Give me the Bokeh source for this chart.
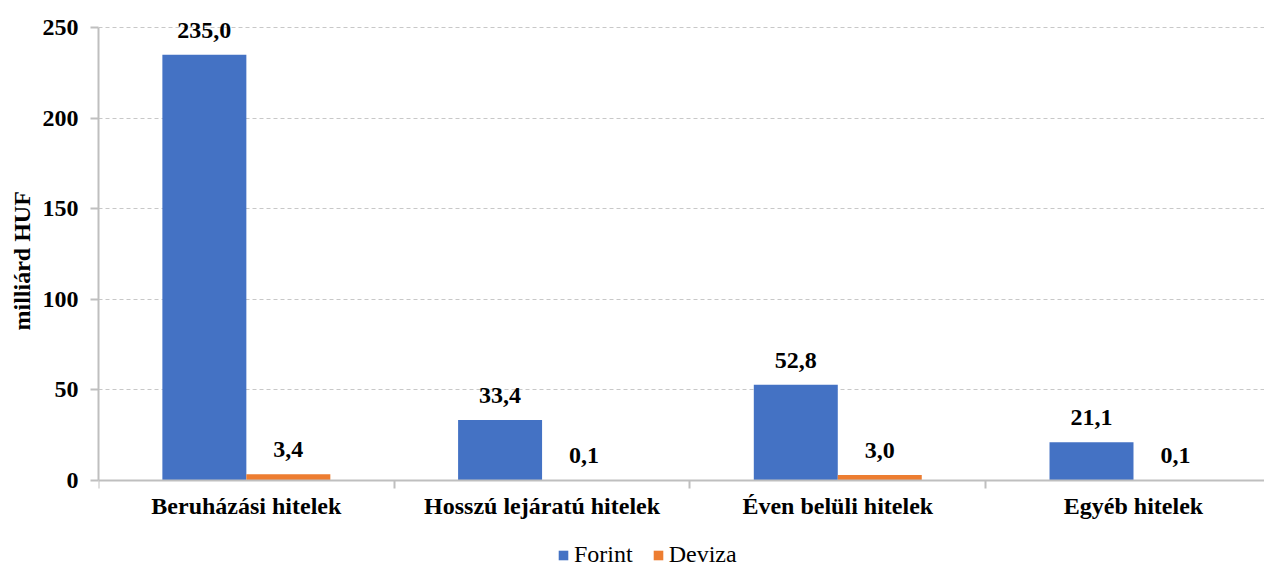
from bokeh.plotting import figure
from bokeh.models import (ColumnDataSource, Range1d, FixedTicker, LabelSet,
                          Legend, LegendItem, LinearAxis, Title)
from bokeh.transform import dodge
from bokeh.embed import file_html
from bokeh.resources import INLINE
import numpy as np

categories = ["Beruházási hitelek", "Hosszú lejáratú hitelek",
              "Éven belüli hitelek", "Egyéb hitelek"]
forint = [235.0, 33.4, 52.8, 21.1]
deviza = [3.4, 0.1, 3.0, 0.1]
y_ticks = [0, 50, 100, 150, 200, 250]

FONT = "Liberation Serif"
FS = "24px"
BLUE = "#4472C4"
ORANGE = "#ED7D31"

xc = list(np.arange(len(categories)) + 0.5)
src = ColumnDataSource(dict(
    x=xc,
    forint=forint,
    deviza=deviza,
    forint_lbl=[f"{v:.1f}".replace(".", ",") for v in forint],
    deviza_lbl=[f"{v:.1f}".replace(".", ",") for v in deviza],
))

# 1.812 px per unit; frame extends below zero to make room for labels/legend
p = figure(frame_width=1166, frame_height=560, output_backend="svg",
           toolbar_location=None, x_axis_location=None,
           x_range=Range1d(0, 3.943), y_range=Range1d(-48.57, 260.5),
           min_border_left=98, min_border_right=0, min_border_top=8,
           min_border_bottom=0)
p.outline_line_color = None
p.background_fill_color = "white"

W = 0.284
r1 = p.vbar(x=dodge("x", -W / 2, range=p.x_range), top="forint", width=W,
            source=src, fill_color=BLUE, line_color=None)
r2 = p.vbar(x=dodge("x", W / 2, range=p.x_range), top="deviza", width=W,
            source=src, fill_color=ORANGE, line_color=None)

for col, off in (("forint", -W / 2), ("deviza", W / 2)):
    ls = LabelSet(x=dodge("x", off, range=p.x_range), y=col, text=col + "_lbl",
                  source=src, text_align="center", text_baseline="alphabetic",
                  y_offset=17, text_font=FONT, text_font_style="bold",
                  text_font_size=FS, text_color="black")
    p.add_layout(ls)

# Y axis
p.yaxis.ticker = FixedTicker(ticks=y_ticks)
p.yaxis.bounds = (0, 250)
p.yaxis.axis_line_color = "#BFBFBF"
p.yaxis.axis_line_width = 2
p.yaxis.major_tick_line_color = "#BFBFBF"
p.yaxis.major_tick_line_width = 2
p.yaxis.major_tick_in = 0
p.yaxis.major_tick_out = 8
p.yaxis.minor_tick_line_color = None
p.yaxis.major_label_text_font = FONT
p.yaxis.major_label_text_font_style = "bold"
p.yaxis.major_label_text_font_size = FS
p.yaxis.major_label_text_color = "black"
p.yaxis.major_label_standoff = 12

ytitle = Title(text="milliárd HUF", align="left", offset=238,
               text_font=FONT, text_font_style="bold", text_font_size=FS,
               text_color="black", standoff=10)
p.add_layout(ytitle, "left")

# X axis placed at y = 0
xax = LinearAxis(fixed_location=0)
xax.ticker = FixedTicker(ticks=xc, minor_ticks=[0, 1, 2, 3, 4])
xax.major_label_overrides = {float(x): c for x, c in zip(xc, categories)}
xax.axis_line_color = "#BFBFBF"
xax.axis_line_width = 2
xax.major_tick_line_color = None
xax.major_tick_out = 8
xax.major_tick_in = 0
xax.minor_tick_line_color = "#BFBFBF"
xax.minor_tick_line_width = 2
xax.minor_tick_in = 0
xax.minor_tick_out = 8
xax.major_label_text_font = FONT
xax.major_label_text_font_style = "bold"
xax.major_label_text_font_size = FS
xax.major_label_text_color = "black"
xax.major_label_standoff = 5
p.add_layout(xax, "below")

# Grid
for g in p.grid:
    if g.dimension == 0:
        g.visible = False
p.ygrid.ticker = FixedTicker(ticks=y_ticks[1:])
p.ygrid.grid_line_color = "#C8C8C8"
p.ygrid.grid_line_dash = "4 3"
p.ygrid.grid_line_width = 1

legend = Legend(items=[LegendItem(label="Forint", renderers=[r1]),
                       LegendItem(label="Deviza", renderers=[r2])],
                orientation="horizontal", location=(459, 0),
                label_text_font=FONT, label_text_font_size=FS,
                label_text_color="black", glyph_width=12, glyph_height=12,
                label_standoff=5, spacing=19, padding=0, margin=0,
                border_line_color=None, background_fill_alpha=0)
p.add_layout(legend, "center")

open("out.html", "w").write(file_html(p, INLINE))
